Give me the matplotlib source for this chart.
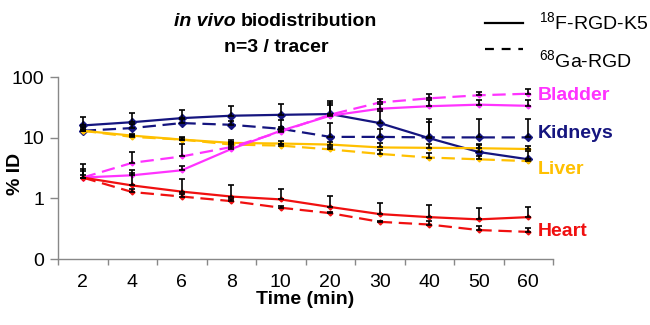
import matplotlib
matplotlib.use("Agg")
import matplotlib.pyplot as plt
from matplotlib.lines import Line2D
import numpy as np

plt.rcParams['font.family'] = ['Liberation Sans', 'DejaVu Sans']
plt.rcParams['mathtext.fontset'] = 'custom'
plt.rcParams['mathtext.rm'] = 'Liberation Sans'

times = ['2', '4', '6', '8', '10', '20', '30', '40', '50', '60']

# %ID values, solid = 18F-RGD-K5, dashed = 68Ga-RGD
kid_k5 = [15.9, 18, 21, 23, 23.8, 24.5, 17.4, 9.8, 5.8, 4.4]
kid_ga = [13, 14.4, 17.4, 16.3, 14, 10.3, 10.3, 10.1, 10.1, 10.1]
liv_k5 = [13, 10.8, 9.3, 8.2, 8.0, 7.7, 6.9, 6.8, 6.7, 6.5]
liv_ga = [13, 10.3, 9.3, 7.7, 7.4, 6.4, 5.4, 4.7, 4.4, 4.1]
bla_k5 = [2.2, 2.4, 2.9, 6.5, 13, 23, 30, 33, 35, 33.5]
bla_ga = [2.2, 3.85, 4.9, 7.0, 12.5, 24, 38, 44.5, 50, 53]
hrt_k5 = [2.2, 1.63, 1.29, 1.07, 0.96, 0.72, 0.55, 0.49, 0.45, 0.49]
hrt_ga = [2.2, 1.27, 1.07, 0.90, 0.70, 0.57, 0.41, 0.37, 0.30, 0.28]

# upper ends of the error bars
kid_k5_top = [21.9, 25.5, 28.7, 33.4, 36, 39.5, 28, 17.8, 8, 6]
kid_ga_top = [15, 16.5, 20, 19, 19.5, 17.4, 14, 20.5, 20.5, 20.5]
liv_k5_top = [14, 11.5, 10.1, 9.3, 8.7, 8.5, 8.3, 7.8, 7.5, 7.3]
liv_ga_top = [13.5, 11, 10, 8.5, 8.0, 7.0, 6.2, 5.5, 5.0, 4.5]
bla_k5_top = [3.0, 2.95, 3.47, 8, 15, 34.7, 36, 41, 42, 42]
bla_ga_top = [3.75, 5.7, 7.9, 8.5, 14, 37, 43.5, 52, 57, 63]
hrt_k5_top = [2.8, 2.6, 2.05, 1.63, 1.44, 1.09, 0.85, 0.78, 0.70, 0.72]
hrt_ga_top = [2.4, 1.4, 1.2, 0.98, 0.75, 0.60, 0.42, 0.42, 0.35, 0.32]

navy = '#15157f'
magenta = '#ff33ff'
yellow = '#ffc000'
red = '#f01010'

W, H = 650, 325
fig = plt.figure(figsize=(6.5, 3.25), dpi=100)
ax = fig.add_axes([58 / W, 1 - 259 / H, (553 - 58) / W, (259 - 77) / H])
x = np.arange(len(times))

series = [
    (kid_k5, kid_k5_top, navy, '-', 4.5),
    (kid_ga, kid_ga_top, navy, '--', 4.5),
    (liv_k5, liv_k5_top, yellow, '-', 2.5),
    (liv_ga, liv_ga_top, yellow, '--', 2.5),
    (bla_k5, bla_k5_top, magenta, '-', 2.5),
    (bla_ga, bla_ga_top, magenta, '--', 2.5),
    (hrt_k5, hrt_k5_top, red, '-', 2.5),
    (hrt_ga, hrt_ga_top, red, '--', 2.5),
]
for vals, tops, col, ls, ms in series:
    vals = np.array(vals)
    up = np.array(tops) - vals
    ax.errorbar(x, vals, yerr=[np.zeros_like(up), up], fmt='none',
                ecolor='black', elinewidth=1.2, capsize=2.5, capthick=1.2, zorder=3)
    line, = ax.plot(x, vals, color=col, ls=ls, lw=1.6, marker='D', ms=ms, zorder=2)
    if ls == '--':
        line.set_dashes((6, 3))

ax.set_yscale('log')
ax.set_ylim(0.1, 100)
ax.set_yticks([0.1, 1, 10, 100])
ax.set_yticklabels(['0', '1', '10', '100'])
ax.yaxis.set_minor_locator(matplotlib.ticker.NullLocator())
ax.set_xlim(-0.5, len(times) - 0.5)
ax.set_xticks(x)
ax.set_xticklabels(times)
ax.set_xticks(np.arange(-0.5, len(times)), minor=True)
ax.tick_params(axis='x', which='major', length=0, pad=11, labelsize=14)
ax.tick_params(axis='x', which='minor', length=4, color='#888888', width=1, direction='out')
ax.tick_params(axis='y', length=6, color='#888888', width=1, pad=4, labelsize=14)
for s in ['top', 'right']:
    ax.spines[s].set_visible(False)
for s in ['left', 'bottom']:
    ax.spines[s].set_color('#888888')
    ax.spines[s].set_linewidth(1)

fig.text(16 / W, 1 - 174 / H, '% ID', rotation=90, ha='center', va='center',
         fontsize=14, fontweight='bold')
fig.text(305 / W, 1 - 300 / H, 'Time (min)', ha='center', va='center',
         fontsize=14, fontweight='bold')

# title with italic part
r = fig.canvas.get_renderer()
ty = 1 - 22 / H
t1 = fig.text(0, ty, 'in vivo', style='italic', fontweight='bold', fontsize=14, va='center')
t2 = fig.text(0, ty, 'biodistribution', fontweight='bold', fontsize=14, va='center')
w1 = t1.get_window_extent(r).width
w2 = t2.get_window_extent(r).width
gap = 5
x0 = 276 - (w1 + gap + w2) / 2
t1.set_x(x0 / W)
t2.set_x((x0 + w1 + gap) / W)
fig.text(276 / W, 1 - 47 / H, 'n=3 / tracer', ha='center', va='center',
         fontsize=14, fontweight='bold')

# legend
fig.add_artist(Line2D([485 / W, 523 / W], [1 - 23 / H, 1 - 23 / H], color='black', lw=1.6))
ld = Line2D([485 / W, 523 / W], [1 - 49 / H, 1 - 49 / H], color='black', lw=1.6)
ld.set_dashes((4, 3.5))
fig.add_artist(ld)
fig.text(539 / W, 1 - 23 / H, r'$^{18}$F-RGD-K5', va='center', fontsize=14)
fig.text(539 / W, 1 - 61 / H, r'$^{68}$Ga-RGD', va='center', fontsize=14)

# organ labels
for name, yy, col in [('Bladder', 95, magenta), ('Kidneys', 133, navy),
                      ('Liver', 169, yellow), ('Heart', 231, red)]:
    fig.text(538 / W, 1 - yy / H, name, color=col, fontsize=14, fontweight='bold', va='center')

fig.savefig('out.png', dpi=100)
